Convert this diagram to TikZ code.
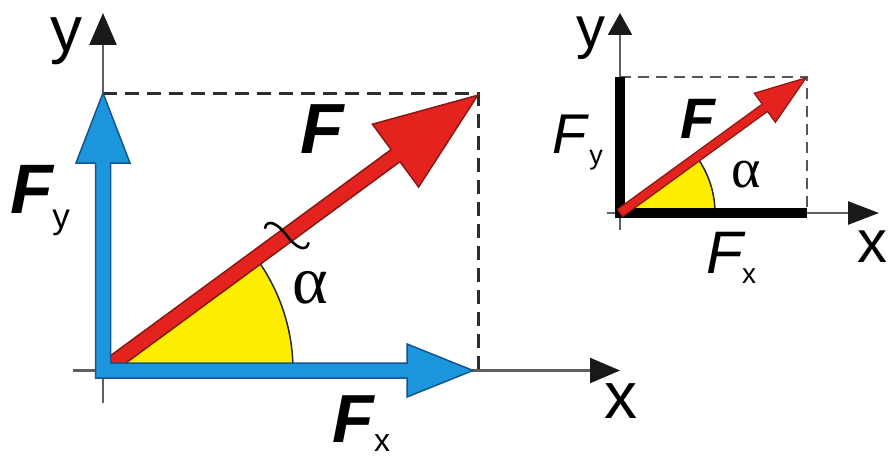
\documentclass[tikz,border=0pt]{standalone}
\usepackage{fontspec}
\setmainfont{Liberation Sans}
\newfontfamily\greekfont{Liberation Serif}
\usetikzlibrary{arrows.meta}
\definecolor{vblue}{RGB}{27,150,220}
\definecolor{vbluedark}{RGB}{20,85,145}
\definecolor{vred}{RGB}{228,35,30}
\definecolor{vreddark}{RGB}{135,25,20}
\definecolor{vyellow}{RGB}{255,238,0}
\definecolor{axisgray}{RGB}{95,95,95}
\definecolor{dashgray}{RGB}{45,45,45}
\newcommand{\fsz}[1]{\fontsize{#1}{#1}\selectfont}
\begin{document}
\begin{tikzpicture}[x=1pt,y=-1pt,
  lbl/.style={inner sep=0pt, anchor=base, text=black},
  axisline/.style={draw=axisgray, line width=2.5pt},
  dashline/.style={draw=dashgray, line width=3pt, dash pattern=on 14pt off 8pt},
  dashlinesmall/.style={draw=dashgray!80, line width=2.5pt, dash pattern=on 11pt off 7pt},
  bluearrow/.style={fill=vblue, draw=vbluedark, line width=1.5pt, line join=miter},
  redarrow/.style={fill=vred, draw=vreddark, line width=1.5pt, line join=miter},
  sector/.style={fill=vyellow, draw=none},
  arcline/.style={draw=black!85, line width=1.5pt},
  bar/.style={draw=black, line width=10pt, line join=miter},
]
\fill[white] (0,0) rectangle (890,460);
\useasboundingbox (0,0) rectangle (890,460);

% ---------------- left diagram ----------------
\coordinate (O) at (103,370.5);
\coordinate (yb) at (103,403);
\coordinate (yt) at (103,13);
\coordinate (xl) at (73,370.5);
\coordinate (xr) at (620,370.5);
\coordinate (c1) at (103,93);
\coordinate (c2) at (478,93);
\coordinate (c3) at (478,370.5);

\draw[dashline] (c1) -- (c2) -- (c3);
\draw[axisline, -{Triangle[length=32pt,width=27pt,color=black!90]}] (yb) -- (yt);
\draw[axisline, -{Triangle[length=30pt,width=25pt,color=black!90]}] (xl) -- (xr);

% yellow angle sector
\fill[sector] (O) -- ++(190,0) arc[start angle=0, end angle=36.3, radius=190pt] -- cycle;
\draw[arcline] (O) ++(190,0) arc[start angle=0, end angle=36.3, radius=190pt];

% red force arrow F
\begin{scope}[shift={(O)}, rotate=36.3]
  \filldraw[redarrow] (0,-7.5) -- (363,-7.5) -- (363,-39) -- (465,0) -- (363,39) -- (363,7.5) -- (0,7.5) -- cycle;
  \draw[black, line width=2.6pt, line cap=round] (215,-19) .. controls (222,-25) and (228,-16) .. (228,0) .. controls (228,16) and (234,25) .. (241,19);
\end{scope}

% blue components Fx and Fy
\filldraw[bluearrow] (95.5,163) -- (95.5,378) -- (407,378) -- (407,397) -- (473,370.5) -- (407,344) -- (407,363) -- (110.5,363) -- (110.5,163) -- (130,163) -- (103,93) -- (76,163) -- cycle;

% labels
\node[lbl] (ly) at (66,52) {\fsz{64pt}y};
\node[lbl] (lx) at (621,418) {\fsz{66pt}x};
\node[lbl] (lF) at (322,153) {\fsz{71pt}\bfseries\itshape F};
\node[lbl] (lFy) at (32,213) {\fsz{70pt}\bfseries\itshape F};
\node[lbl] (lFys) at (61,228) {\fsz{35pt}y};
\node[lbl] (lFx) at (353,442) {\fsz{68pt}\bfseries\itshape F};
\node[lbl] (lFxs) at (382,451) {\fsz{32pt}x};
\node[lbl] (la) at (310,303) {\fsz{68pt}\greekfont α};

% ---------------- right diagram ----------------
\coordinate (P) at (620,213);
\coordinate (yb2) at (620,230);
\coordinate (yt2) at (620,13);
\coordinate (xl2) at (607,213);
\coordinate (xr2) at (879,213);
\coordinate (d1) at (620,77);
\coordinate (d2) at (807,77);
\coordinate (d3) at (807,213);

\draw[dashlinesmall] (d1) -- (d2) -- (d3);
\draw[axisline, -{Triangle[length=22pt,width=24pt,color=black!90]}] (yb2) -- (yt2);
\draw[axisline, -{Triangle[length=31pt,width=23pt,color=black!90]}] (xl2) -- (xr2);

\fill[sector] (P) -- ++(95,0) arc[start angle=0, end angle=36, radius=95pt] -- cycle;
\draw[arcline] (P) ++(95,0) arc[start angle=0, end angle=36, radius=95pt];

\draw[bar] (d1) -- (P) -- (d3);

\begin{scope}[shift={(P)}, rotate=36]
  \filldraw[redarrow, line width=1.2pt] (0,-4.5) -- (179,-4.5) -- (179,-18) -- (230,0) -- (179,18) -- (179,4.5) -- (0,4.5) -- cycle;
\end{scope}

\node[lbl] (ry) at (591,48) {\fsz{58pt}y};
\node[lbl] (rx) at (872,262) {\fsz{60pt}x};
\node[lbl] (rF) at (698,138) {\fsz{57pt}\bfseries\itshape F};
\node[lbl] (rFy) at (570,153) {\fsz{56pt}\itshape F};
\node[lbl] (rFys) at (596,164) {\fsz{27pt}y};
\node[lbl] (rFx) at (725,273) {\fsz{60pt}\itshape F};
\node[lbl] (rFxs) at (749,283) {\fsz{28pt}x};
\node[lbl] (ra) at (746,187) {\fsz{56pt}\greekfont α};
\end{tikzpicture}
\end{document}
